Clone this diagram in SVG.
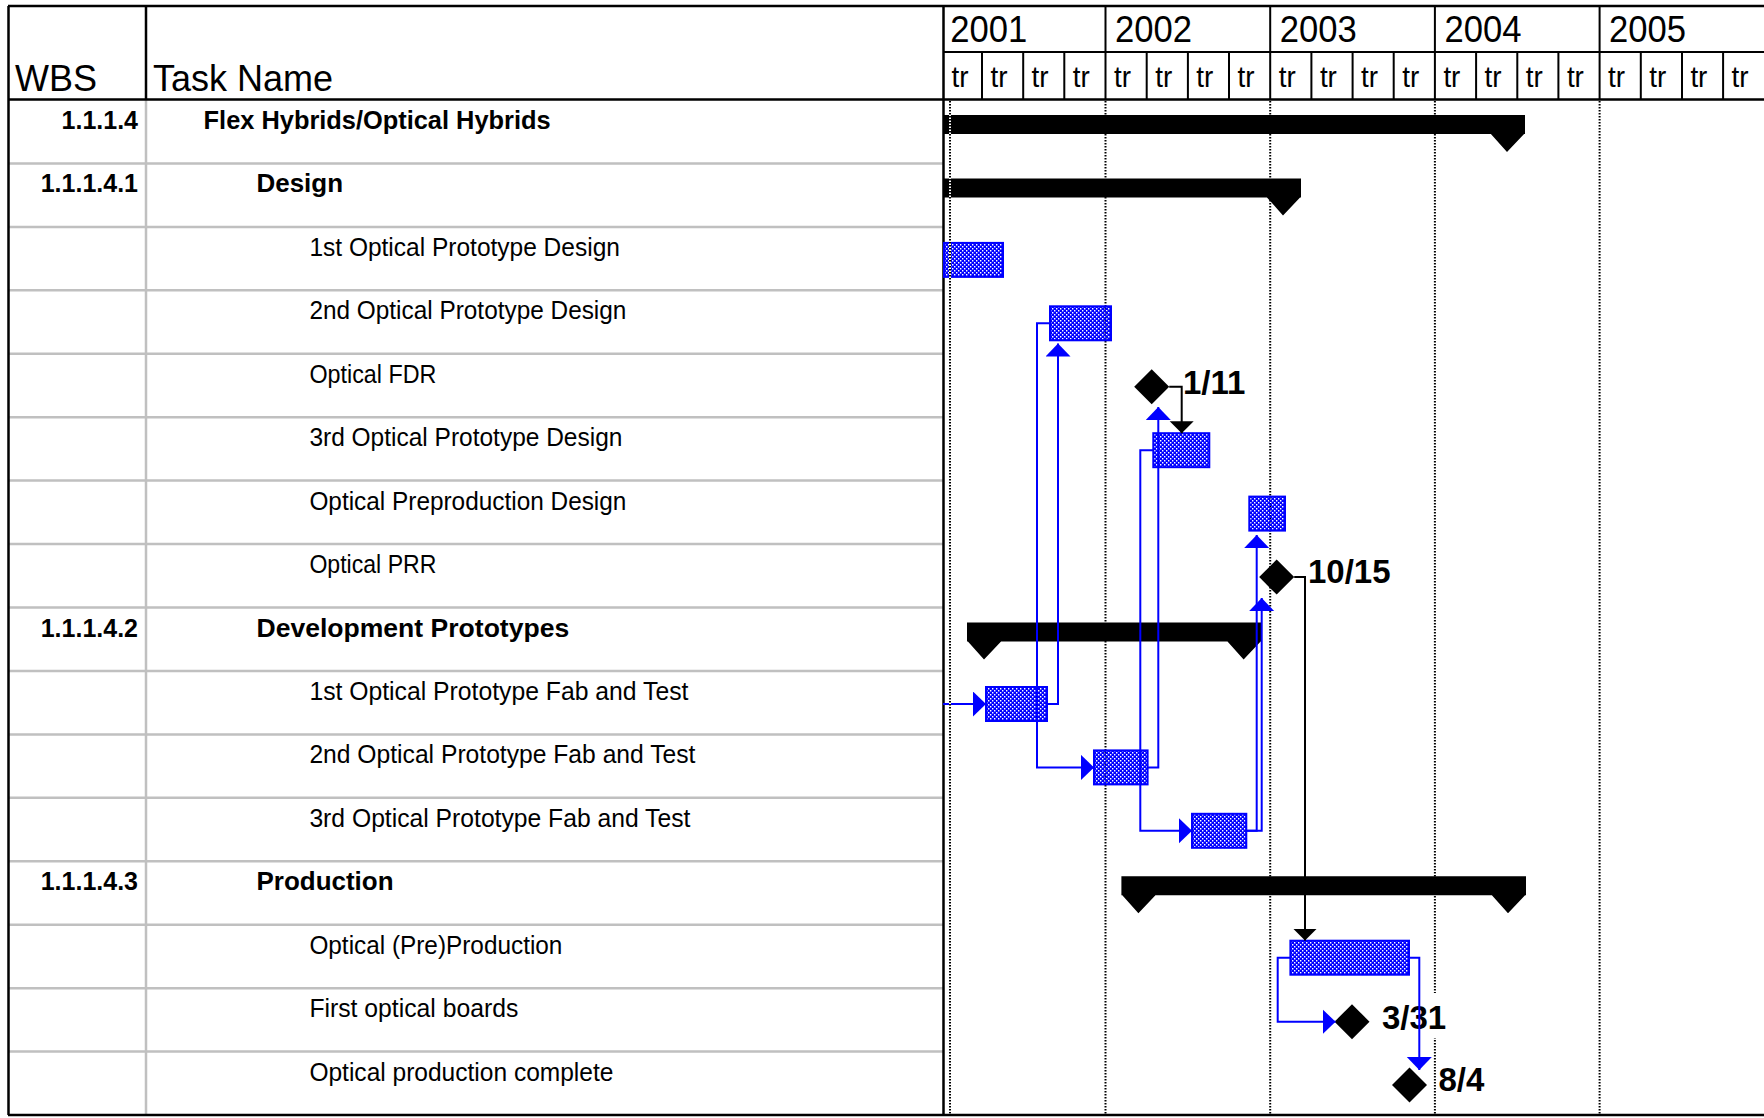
<svg xmlns="http://www.w3.org/2000/svg" width="1764" height="1118" viewBox="0 0 1764 1118">
<style>
text{font-family:"Liberation Sans",Arial,sans-serif;fill:#000}
.hdr{font-size:36px}
.yr{font-size:37px}
.qt{font-size:30px}
.b{font-weight:bold;font-size:25px}
.t{font-size:25px}
.ms{font-weight:bold;font-size:33px}
.wbs{font-weight:bold;font-size:25px;text-anchor:end}
.grid{stroke:#c0c0c0;stroke-width:2.5;fill:none}
.frame{stroke:#000;stroke-width:2.5;fill:none}
.thin{stroke:#000;stroke-width:2;fill:none}
.dot{stroke:#000;stroke-width:2;stroke-dasharray:1.5 1.5;fill:none}
.bar{fill:url(#dots);stroke:#0000ff;stroke-width:2}
.sum{fill:#000}
.dia{fill:#000}
.lnk{stroke:#0000ff;stroke-width:2;fill:none}
.blk{stroke:#000;stroke-width:2;fill:none}
</style>
<defs>
<pattern id="dots" width="4" height="4" patternUnits="userSpaceOnUse">
<path d="M0,0H4V4H0Z M0,0H1.4V1.4H0Z M2,2H3.4V3.4H2Z" fill="#0000ff" fill-rule="evenodd"/>
</pattern>
<marker id="ab" markerUnits="userSpaceOnUse" markerWidth="14" markerHeight="26" refX="13" refY="12.5" orient="auto">
<path d="M0,0L13,12.5L0,25Z" fill="#0000ff"/>
</marker>
<marker id="ak" markerUnits="userSpaceOnUse" markerWidth="14" markerHeight="26" refX="12" refY="12" orient="auto">
<path d="M0,0L12,12L0,24Z" fill="#000"/>
</marker>
</defs>
<rect width="1764" height="1118" fill="#fff"/>

<g id="table-grid">
<path class="grid" d="M9,163.4H943M9,226.9H943M9,290.3H943M9,353.8H943M9,417.2H943M9,480.6H943M9,544.1H943M9,607.5H943M9,671H943M9,734.4H943M9,797.8H943M9,861.3H943M9,924.7H943M9,988.2H943M9,1051.6H943"/>
<path class="grid" d="M146,100V1115"/>
</g>

<g id="year-lines">
<path class="dot" d="M1105.5,101V1114M1270.2,101V1114M1434.9,101V1114M1599.6,101V1114"/>
</g>

<g id="header">
<path class="frame" d="M8,6H1764M8,99.5H1764M8.5,6V1115M8,1115H1764M943.5,6V1115M146,6V100"/>
<path class="thin" d="M943,52H1764M1105.5,6V100M1270.2,6V100M1434.9,6V100M1599.6,6V100"/>
<path class="thin" d="M982,52V100M1023.2,52V100M1064.3,52V100M1146.7,52V100M1187.9,52V100M1229,52V100M1311.4,52V100M1352.6,52V100M1393.7,52V100M1476.1,52V100M1517.3,52V100M1558.4,52V100M1640.8,52V100M1682,52V100M1723.1,52V100"/>
<text class="hdr" x="15" y="91">WBS</text>
<text class="hdr" x="153" y="91">Task Name</text>
<text class="yr" x="950.3" y="42" textLength="77" lengthAdjust="spacingAndGlyphs">2001</text>
<text class="yr" x="1115" y="42" textLength="77" lengthAdjust="spacingAndGlyphs">2002</text>
<text class="yr" x="1279.7" y="42" textLength="77" lengthAdjust="spacingAndGlyphs">2003</text>
<text class="yr" x="1444.4" y="42" textLength="77" lengthAdjust="spacingAndGlyphs">2004</text>
<text class="yr" x="1609.1" y="42" textLength="77" lengthAdjust="spacingAndGlyphs">2005</text>
<g class="qt">
<text class="qt" x="951.5" y="87" textLength="17" lengthAdjust="spacingAndGlyphs">tr</text>
<text class="qt" x="990.5" y="87" textLength="17" lengthAdjust="spacingAndGlyphs">tr</text>
<text class="qt" x="1031.6" y="87" textLength="17" lengthAdjust="spacingAndGlyphs">tr</text>
<text class="qt" x="1072.8" y="87" textLength="17" lengthAdjust="spacingAndGlyphs">tr</text>
<text class="qt" x="1114" y="87" textLength="17" lengthAdjust="spacingAndGlyphs">tr</text>
<text class="qt" x="1155.2" y="87" textLength="17" lengthAdjust="spacingAndGlyphs">tr</text>
<text class="qt" x="1196.3" y="87" textLength="17" lengthAdjust="spacingAndGlyphs">tr</text>
<text class="qt" x="1237.5" y="87" textLength="17" lengthAdjust="spacingAndGlyphs">tr</text>
<text class="qt" x="1278.7" y="87" textLength="17" lengthAdjust="spacingAndGlyphs">tr</text>
<text class="qt" x="1319.9" y="87" textLength="17" lengthAdjust="spacingAndGlyphs">tr</text>
<text class="qt" x="1361" y="87" textLength="17" lengthAdjust="spacingAndGlyphs">tr</text>
<text class="qt" x="1402.2" y="87" textLength="17" lengthAdjust="spacingAndGlyphs">tr</text>
<text class="qt" x="1443.4" y="87" textLength="17" lengthAdjust="spacingAndGlyphs">tr</text>
<text class="qt" x="1484.6" y="87" textLength="17" lengthAdjust="spacingAndGlyphs">tr</text>
<text class="qt" x="1525.7" y="87" textLength="17" lengthAdjust="spacingAndGlyphs">tr</text>
<text class="qt" x="1566.9" y="87" textLength="17" lengthAdjust="spacingAndGlyphs">tr</text>
<text class="qt" x="1608.1" y="87" textLength="17" lengthAdjust="spacingAndGlyphs">tr</text>
<text class="qt" x="1649.3" y="87" textLength="17" lengthAdjust="spacingAndGlyphs">tr</text>
<text class="qt" x="1690.4" y="87" textLength="17" lengthAdjust="spacingAndGlyphs">tr</text>
<text class="qt" x="1731.6" y="87" textLength="17" lengthAdjust="spacingAndGlyphs">tr</text>
</g>
</g>

<g id="task-1.1.1.4">
<text class="wbs" x="138" y="129">1.1.1.4</text>
<text class="b" x="203.6" y="129" textLength="347" lengthAdjust="spacingAndGlyphs">Flex Hybrids/Optical Hybrids</text>
<path class="sum" d="M943,115H1525V134H943Z M1490,133L1525,133L1507,152Z"/>
</g>
<g id="task-1.1.1.4.1">
<text class="wbs" x="138" y="192.4">1.1.1.4.1</text>
<text class="b" x="256.5" y="192.4" textLength="86.5" lengthAdjust="spacingAndGlyphs">Design</text>
<path class="sum" d="M943,178.4H1301V197.4H943Z M1266,196.4L1301,196.4L1283,215.4Z"/>
</g>
<g id="task-1st-optical-prototype-design">
<text class="t" x="309.4" y="255.9" textLength="310.5" lengthAdjust="spacingAndGlyphs">1st Optical Prototype Design</text>
<rect class="bar" x="944" y="242.9" width="59" height="34"/>
</g>
<g id="task-2nd-optical-prototype-design">
<text class="t" x="309.4" y="319.3" textLength="317" lengthAdjust="spacingAndGlyphs">2nd Optical Prototype Design</text>
<rect class="bar" x="1050" y="306.3" width="61" height="34"/>
</g>
<g id="task-optical-fdr">
<text class="t" x="309.4" y="382.8" textLength="127" lengthAdjust="spacingAndGlyphs">Optical FDR</text>
<polygon class="dia" points="1151.7,369.3 1169.2,386.8 1151.7,404.3 1134.2,386.8"/>
<text class="ms" x="1183" y="394">1/11</text>
</g>
<g id="task-3rd-optical-prototype-design">
<text class="t" x="309.4" y="446.2" textLength="313" lengthAdjust="spacingAndGlyphs">3rd Optical Prototype Design</text>
<rect class="bar" x="1153.3" y="433.2" width="56" height="34"/>
</g>
<g id="task-optical-preproduction-design">
<text class="t" x="309.4" y="509.6" textLength="317" lengthAdjust="spacingAndGlyphs">Optical Preproduction Design</text>
<rect class="bar" x="1249.3" y="496.6" width="35.7" height="34"/>
</g>
<g id="task-optical-prr">
<text class="t" x="309.4" y="573.1" textLength="127" lengthAdjust="spacingAndGlyphs">Optical PRR</text>
<polygon class="dia" points="1276.7,559.6 1294.2,577.1 1276.7,594.6 1259.2,577.1"/>
<text class="ms" x="1308" y="582.5">10/15</text>
</g>
<g id="task-1.1.1.4.2">
<text class="wbs" x="138" y="636.5">1.1.1.4.2</text>
<text class="b" x="256.5" y="636.5" textLength="312.7" lengthAdjust="spacingAndGlyphs">Development Prototypes</text>
<path class="sum" d="M967,622.5H1261.6V641.5H967Z M967,640.5L1002,640.5L984,659.5Z M1226.6,640.5L1261.6,640.5L1243.6,659.5Z"/>
</g>
<g id="task-1st-optical-prototype-fab-and-test">
<text class="t" x="309.4" y="700" textLength="379" lengthAdjust="spacingAndGlyphs">1st Optical Prototype Fab and Test</text>
<rect class="bar" x="986" y="687" width="61" height="34"/>
</g>
<g id="task-2nd-optical-prototype-fab-and-test">
<text class="t" x="309.4" y="763.4" textLength="386" lengthAdjust="spacingAndGlyphs">2nd Optical Prototype Fab and Test</text>
<rect class="bar" x="1094" y="750.4" width="53.6" height="34"/>
</g>
<g id="task-3rd-optical-prototype-fab-and-test">
<text class="t" x="309.4" y="826.8" textLength="381" lengthAdjust="spacingAndGlyphs">3rd Optical Prototype Fab and Test</text>
<rect class="bar" x="1192" y="813.8" width="54.3" height="34"/>
</g>
<g id="task-1.1.1.4.3">
<text class="wbs" x="138" y="890.3">1.1.1.4.3</text>
<text class="b" x="256.5" y="890.3" textLength="137" lengthAdjust="spacingAndGlyphs">Production</text>
<path class="sum" d="M1121.4,876.3H1526V895.3H1121.4Z M1121.4,894.3L1156.4,894.3L1138.4,913.3Z M1491,894.3L1526,894.3L1508,913.3Z"/>
</g>
<g id="task-optical-pre-production">
<text class="t" x="309.4" y="953.7" textLength="253" lengthAdjust="spacingAndGlyphs">Optical (Pre)Production</text>
<rect class="bar" x="1290.4" y="940.7" width="118.6" height="34"/>
</g>
<g id="task-first-optical-boards">
<text class="t" x="309.4" y="1017.2" textLength="209" lengthAdjust="spacingAndGlyphs">First optical boards</text>
<polygon class="dia" points="1352,1004.2 1369.5,1021.7 1352,1039.2 1334.5,1021.7"/>
<rect x="1378" y="993" width="72" height="45" fill="#fff"/>
<text class="ms" x="1382" y="1029">3/31</text>
</g>
<g id="task-optical-production-complete">
<text class="t" x="309.4" y="1080.6" textLength="304" lengthAdjust="spacingAndGlyphs">Optical production complete</text>
<polygon class="dia" points="1409.5,1067.5 1427,1085 1409.5,1102.5 1392,1085"/>
<text class="ms" x="1438.5" y="1091">8/4</text>
</g>

<g id="connectors">
<path class="lnk" marker-end="url(#ab)" d="M943,704H986"/>
<path class="lnk" marker-end="url(#ab)" d="M1050,323.3H1037V767.4H1094"/>
<path class="lnk" marker-end="url(#ab)" d="M1047,704H1058V343.5"/>
<path class="lnk" marker-end="url(#ab)" d="M1147.6,767.4H1158.3V407"/>
<path class="lnk" marker-end="url(#ab)" d="M1153.3,450.2H1140.3V830.8H1192"/>
<path class="lnk" marker-end="url(#ab)" d="M1246.3,830.8H1261.7V598"/>
<path class="lnk" marker-end="url(#ab)" d="M1246.3,830.8H1256.7V535"/>
<path class="lnk" marker-end="url(#ab)" d="M1290.4,957.7H1277.7V1021.7H1335.5"/>
<path class="lnk" marker-end="url(#ab)" d="M1409,957.7H1419.3V1070"/>
<path class="blk" marker-end="url(#ak)" d="M1169.2,386.8H1181.7V433.2"/>
<path class="blk" marker-end="url(#ak)" d="M1294.2,577.1H1305V940.5"/>
</g>

<g id="status-line">
<path d="M950,101V1114" stroke="#fff" stroke-width="2"/>
<path class="dot" d="M950,101V1114"/>
</g>
</svg>
